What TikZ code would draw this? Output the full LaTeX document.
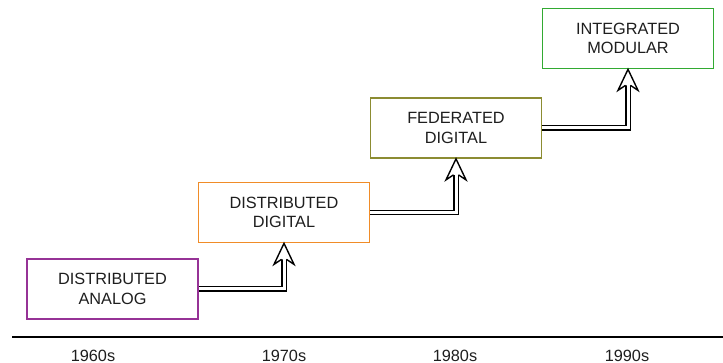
\documentclass[tikz,border=0pt]{standalone}
\usepackage{fontspec}
\setmainfont{Liberation Sans}
\usetikzlibrary{calc}

\definecolor{eraPurple}{RGB}{150,50,150}
\definecolor{eraOrange}{RGB}{240,140,40}
\definecolor{eraOlive}{RGB}{140,140,50}
\definecolor{eraGreen}{RGB}{50,170,50}
\definecolor{labelInk}{RGB}{30,30,30}

% Double-line connector with an open head, from the east side of one stage
% to the bottom centre of the next one.
\newcommand{\flowarrow}[2]{%
  \draw[shaft] (#1.east) -| ($(#2.south)+(0,16)$);
  \filldraw[head] ($(#2.south)+(-2.4,16)$) -- ($(#2.south)+(-10,21)$)
     -- (#2.south) -- ($(#2.south)+(10,21)$) -- ($(#2.south)+(2.4,16)$);
}

\begin{document}
\begin{tikzpicture}[x=1pt,y=-1pt,
  stage/.style={draw, line width=1.7pt, fill=white, align=center,
    text=labelInk, font=\fontsize{16.3}{19.5}\selectfont,
    minimum width=171pt, minimum height=60pt, inner sep=0pt},
  shaft/.style={draw=black, line width=1.4pt, double=white,
    double distance=3pt, line join=miter},
  head/.style={draw=black, fill=white, line width=1.4pt, line join=miter},
  year/.style={anchor=base, text=labelInk, font=\fontsize{16.3}{19}\selectfont,
    inner sep=0pt}
]
\useasboundingbox (0,0) rectangle (723,363);

% stages of the architecture
\node[stage, draw=eraPurple] (analog)    at (112.5,289)  {DISTRIBUTED\\ANALOG};
\node[stage, draw=eraOrange] (distdig)   at (284,212.5)  {DISTRIBUTED\\DIGITAL};
\node[stage, draw=eraOlive]  (federated) at (456,128)    {FEDERATED\\DIGITAL};
\node[stage, draw=eraGreen]  (ima)       at (628,38.5)   {INTEGRATED\\MODULAR};

% evolution steps
\flowarrow{analog}{distdig}
\flowarrow{distdig}{federated}
\flowarrow{federated}{ima}

% time axis
\coordinate (axisL) at (12,337);
\coordinate (axisR) at (723,337);
\draw[line width=2.2pt] (axisL) -- (axisR);

\node[year] (y60) at (93,361)  {1960s};
\node[year] (y70) at (284,361) {1970s};
\node[year] (y80) at (455,361) {1980s};
\node[year] (y90) at (627,361) {1990s};
\end{tikzpicture}
\end{document}
